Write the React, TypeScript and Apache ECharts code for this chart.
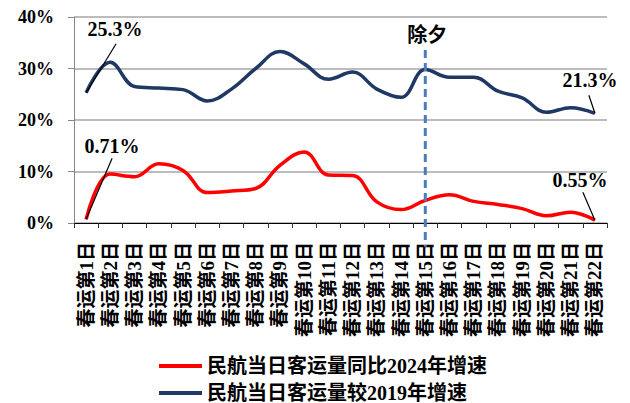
import React, { useEffect, useRef } from "react";
import * as echarts from "echarts";

const categories = [
  "春运第1日", "春运第2日", "春运第3日", "春运第4日", "春运第5日", "春运第6日",
  "春运第7日", "春运第8日", "春运第9日", "春运第10日", "春运第11日", "春运第12日",
  "春运第13日", "春运第14日", "春运第15日", "春运第16日", "春运第17日", "春运第18日",
  "春运第19日", "春运第20日", "春运第21日", "春运第22日",
];

const vs2024 = [0.71, 9.5, 9.0, 11.5, 10.2, 5.9, 6.2, 6.7, 11.2, 13.8, 9.3, 9.2, 4.1, 2.6, 4.4, 5.5, 4.2, 3.6, 2.8, 1.4, 2.1, 0.55];
const vs2019 = [25.3, 31.2, 26.5, 26.2, 25.9, 23.7, 26.0, 30.0, 33.3, 30.9, 27.9, 29.3, 26.0, 24.4, 29.8, 28.3, 28.3, 25.6, 24.3, 21.5, 22.4, 21.3];

const yTicks = [0, 10, 20, 30, 40];

const seriesNames = ["民航当日客运量同比2024年增速", "民航当日客运量较2019年增速"];
const eveCategory = "春运第15日";
const eveLabel = "除夕";
const eveLineRange = [-4.6, 33.6];

const serifFont = "'Liberation Serif', 'Noto Sans CJK SC', serif";

// annotation offsets (px) relative to the data point: [lineEndDx, lineEndDy, textDx, textDy]
const annotations = [
  { series: 1, index: 0, off: [30, -49, 29, -64] },
  { series: 0, index: 0, off: [26, -61, 26, -73] },
  { series: 1, index: 21, off: [-6, -18, -5, -33] },
  { series: 0, index: 21, off: [-12, -28, -15, -40] },
];

export default function App() {
  const ref = useRef<HTMLDivElement>(null);
  useEffect(() => {
    if (!ref.current) return;
    const chart = echarts.init(ref.current, null, { renderer: "svg" });
    const makeSeries = (name: string, data: number[], color: string, z: number) => ({
      name,
      type: "line",
      data,
      smooth: 0.4,
      showSymbol: false,
      lineStyle: { color, width: 3.5 },
      itemStyle: { color },
      z,
    });

    const legendBase = {
      orient: "horizontal",
      left: 159,
      padding: 0,
      itemWidth: 43,
      itemHeight: 4,
      icon: "rect",
      textStyle: {
        fontFamily: serifFont,
        fontWeight: "bold",
        fontSize: 20,
        lineHeight: 18,
        color: "#000",
      },
    };

    chart.setOption({
      animation: false,
      grid: { left: 74, right: 23, top: 17, bottom: 180, containLabel: false },
      legend: [
        { ...legendBase, top: 356, data: [seriesNames[0]] },
        { ...legendBase, top: 383, data: [seriesNames[1]] },
      ],
      xAxis: {
        type: "category",
        data: categories,
        boundaryGap: true,
        axisLine: { lineStyle: { color: "#000", width: 1 } },
        axisTick: { show: true, length: 5, lineStyle: { color: "#333" } },
        axisLabel: {
          interval: 0,
          rotate: 90,
          margin: 19,
          fontFamily: serifFont,
          fontWeight: "bold",
          fontSize: 19,
          color: "#000",
        },
      },
      yAxis: {
        type: "value",
        min: yTicks[0],
        max: yTicks[yTicks.length - 1],
        interval: 10,
        axisLine: { show: true, lineStyle: { color: "#888", width: 1 } },
        axisTick: { show: true, length: 6, lineStyle: { color: "#888" } },
        splitLine: { lineStyle: { color: "#A6A6A6", width: 1.5 } },
        axisLabel: {
          formatter: "{value}%",
          margin: 20,
          fontFamily: serifFont,
          fontWeight: "bold",
          fontSize: 18,
          color: "#000",
        },
      },
      series: [
        makeSeries(seriesNames[0], vs2024, "#FF0000", 3),
        makeSeries(seriesNames[1], vs2019, "#1F3864", 2),
      ],
    });

    const seriesData = [vs2024, vs2019];
    const graphics: any[] = [];
    annotations.forEach((a) => {
      const v = seriesData[a.series][a.index];
      const p = chart.convertToPixel({ gridIndex: 0 }, [a.index, v]) as number[];
      graphics.push({
        type: "line",
        silent: true,
        z: 10,
        shape: { x1: p[0], y1: p[1], x2: p[0] + a.off[0], y2: p[1] + a.off[1] },
        style: { stroke: "#000", lineWidth: 1.2 },
      });
      graphics.push({
        type: "text",
        silent: true,
        z: 10,
        x: p[0] + a.off[2],
        y: p[1] + a.off[3],
        style: {
          text: v + "%",
          fill: "#000",
          font: "bold 20px 'Liberation Serif', serif",
          textAlign: "center",
          textVerticalAlign: "middle",
        },
      });
    });

    const x = chart.convertToPixel({ xAxisIndex: 0 }, eveCategory) as number;
    const yTop = chart.convertToPixel({ yAxisIndex: 0 }, eveLineRange[1]) as number;
    const yBot = chart.convertToPixel({ yAxisIndex: 0 }, eveLineRange[0]) as number;
    graphics.push(
      {
        type: "line",
        silent: true,
        z: 10,
        shape: { x1: x, y1: yTop, x2: x, y2: yBot },
        style: { stroke: "#4A7EBB", lineWidth: 3, lineDash: [8, 5] },
      },
      {
        type: "text",
        silent: true,
        z: 10,
        x: x + 2,
        y: yTop - 6,
        style: {
          text: eveLabel,
          fill: "#000",
          font: "bold 20px 'Noto Sans CJK SC', sans-serif",
          textAlign: "center",
          textVerticalAlign: "bottom",
        },
      }
    );
    chart.setOption({ graphic: graphics });
    return () => chart.dispose();
  }, []);
  return <div ref={ref} style={{ width: 630, height: 403, position: "absolute", left: 0, top: 0 }} />;
}
